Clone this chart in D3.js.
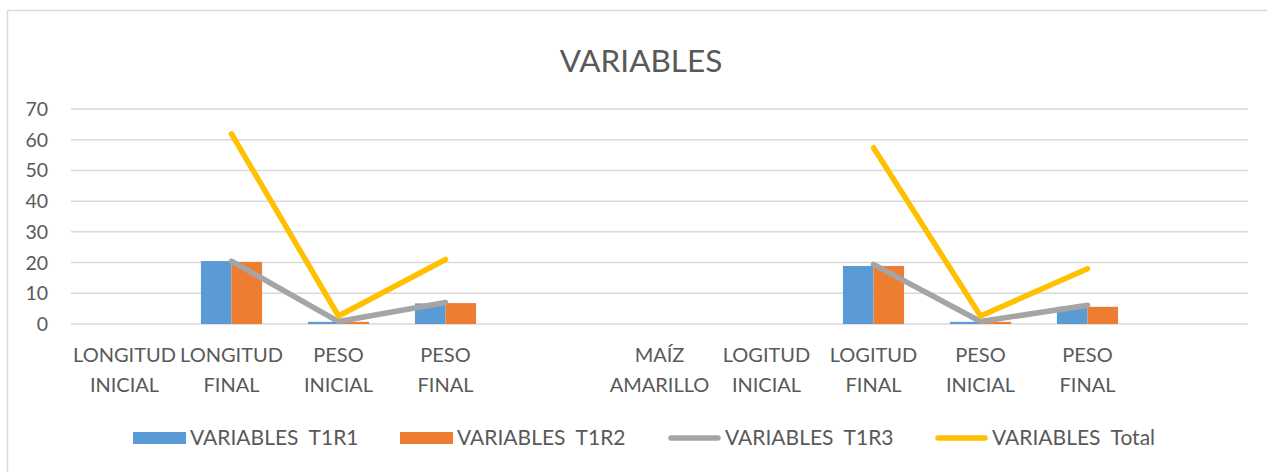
<!DOCTYPE html>
<html>
<head>
<meta charset="utf-8">
<script src="https://cdn.jsdelivr.net/npm/d3@7"></script>
<style>
  body { margin: 0; background: #fff; }
  text { font-family: Lato, "Open Sans", sans-serif; fill: #595959; }
</style>
</head>
<body>
<div id="chart"></div>
<script>
// categories on the x axis (two lines each, blank slots kept)
const categories = [
  ["LONGITUD", "INICIAL"], ["LONGITUD", "FINAL"], ["PESO", "INICIAL"], ["PESO", "FINAL"], ["", ""],
  ["MAÍZ", "AMARILLO"], ["LOGITUD", "INICIAL"], ["LOGITUD", "FINAL"], ["PESO", "INICIAL"], ["PESO", "FINAL"], ["", ""]
];
const t1r1 = [null, 20.5, 0.7, 6.7, null, null, null, 18.9, 0.7, 5.6, null];
const t1r2 = [null, 20.2, 0.7, 6.8, null, null, null, 18.9, 0.7, 5.6, null];
const t1r3 = [null, 20.5, 0.8, 7.0, null, null, null, 19.4, 0.8, 6.1, null];
const total = [null, 61.9, 2.6, 21.0, null, null, null, 57.4, 2.6, 18.0, null];
const yTicks = [0, 10, 20, 30, 40, 50, 60, 70];

const W = 1267, H = 472;
const margin = {left: 71, right: 19, top: 109, bottom: 148};

const svg = d3.select("#chart").append("svg")
    .attr("width", W).attr("height", H);

// chart area border
svg.append("rect")
    .attr("x", 7.5).attr("y", 10.5)
    .attr("width", W + 20).attr("height", H + 20)
    .attr("fill", "none").attr("stroke", "#d9d9d9").attr("stroke-width", 1.5);

svg.append("text")
    .attr("x", 641).attr("y", 72)
    .attr("text-anchor", "middle")
    .style("font-size", "31.5px")
    .text("VARIABLES");

const x = d3.scaleBand()
    .domain(d3.range(categories.length))
    .range([margin.left, W - margin.right]);

const y = d3.scaleLinear()
    .domain([0, 70])
    .range([H - margin.bottom, margin.top]);

const xs = d3.scaleBand()
    .domain(["t1r1", "t1r2"])
    .range([0, x.bandwidth()])
    .paddingOuter(0.75);

// gridlines
svg.append("g")
  .selectAll("line")
  .data(yTicks)
  .join("line")
    .attr("x1", margin.left).attr("x2", W - margin.right)
    .attr("y1", d => y(d)).attr("y2", d => y(d))
    .attr("stroke", "#d9d9d9").attr("stroke-width", 1.5);

// y labels
svg.append("g")
  .selectAll("text")
  .data(yTicks)
  .join("text")
    .attr("x", 48).attr("y", d => y(d) + 7)
    .attr("text-anchor", "end")
    .style("font-size", "19.5px")
    .text(d => d);

// x labels
const xl = svg.append("g")
  .selectAll("text")
  .data(categories)
  .join("text")
    .attr("text-anchor", "middle")
    .style("font-size", "20px");
xl.append("tspan")
    .attr("x", (d, i) => x(i) + x.bandwidth() / 2).attr("y", 362)
    .text(d => d[0]);
xl.append("tspan")
    .attr("x", (d, i) => x(i) + x.bandwidth() / 2).attr("y", 392)
    .text(d => d[1]);

// bars
const barSeries = [
  {key: "t1r1", values: t1r1, color: "#5b9bd5"},
  {key: "t1r2", values: t1r2, color: "#ed7d31"}
];
barSeries.forEach(s => {
  svg.append("g")
    .selectAll("rect")
    .data(s.values.map((v, i) => ({i, v})).filter(d => d.v != null))
    .join("rect")
      .attr("x", d => x(d.i) + xs(s.key))
      .attr("width", xs.bandwidth())
      .attr("y", d => y(d.v))
      .attr("height", d => y(0) - y(d.v))
      .attr("fill", s.color);
});

// lines
const line = d3.line()
    .defined(d => d != null)
    .x((d, i) => x(i) + x.bandwidth() / 2)
    .y(d => y(d));

[{values: t1r3, color: "#a5a5a5"}, {values: total, color: "#ffc000"}].forEach(s => {
  svg.append("path")
      .attr("d", line(s.values))
      .attr("fill", "none")
      .attr("stroke", s.color)
      .attr("stroke-width", 5.5)
      .attr("stroke-linecap", "round")
      .attr("stroke-linejoin", "round");
});

// legend
const legend = [
  {name: "VARIABLES  T1R1", color: "#5b9bd5", type: "rect", x: 133},
  {name: "VARIABLES  T1R2", color: "#ed7d31", type: "rect", x: 400},
  {name: "VARIABLES  T1R3", color: "#a5a5a5", type: "line", x: 668},
  {name: "VARIABLES  Total", color: "#ffc000", type: "line", x: 935}
];
const lg = svg.append("g")
  .selectAll("g")
  .data(legend)
  .join("g")
    .attr("transform", d => `translate(${d.x},438)`);
lg.filter(d => d.type === "rect").append("rect")
    .attr("x", 0).attr("y", -6).attr("width", 53).attr("height", 12)
    .attr("fill", d => d.color);
lg.filter(d => d.type === "line").append("line")
    .attr("x1", 3).attr("x2", 50).attr("y1", 0).attr("y2", 0)
    .attr("stroke", d => d.color).attr("stroke-width", 5.5)
    .attr("stroke-linecap", "round");
lg.append("text")
    .attr("x", 57).attr("y", 7)
    .style("font-size", "21px")
    .style("white-space", "pre")
    .text(d => d.name);
</script>
</body>
</html>
